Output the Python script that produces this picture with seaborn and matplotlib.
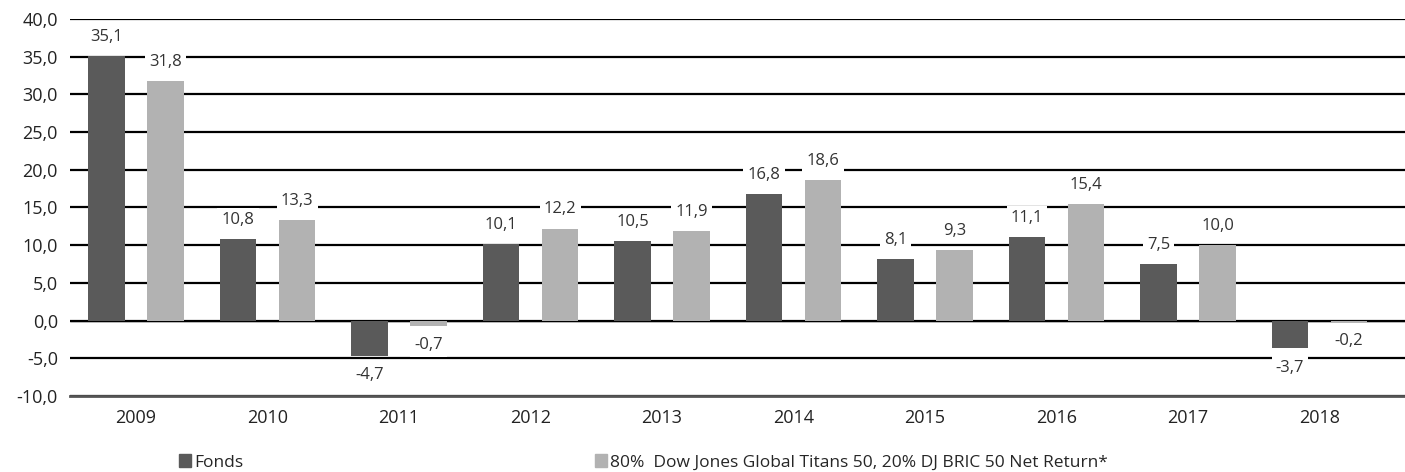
import pandas as pd
import matplotlib.pyplot as plt
import seaborn as sns

years = ['2009', '2010', '2011', '2012', '2013', '2014', '2015', '2016', '2017', '2018']
fonds = [35.1, 10.8, -4.7, 10.1, 10.5, 16.8, 8.1, 11.1, 7.5, -3.7]
benchmark = [31.8, 13.3, -0.7, 12.2, 11.9, 18.6, 9.3, 15.4, 10.0, -0.2]
series_names = ['Fonds', '80%  Dow Jones Global Titans 50, 20% DJ BRIC 50 Net Return*']
colors = ['#5a5a5a', '#b2b2b2']
y_ticks = [-10, -5, 0, 5, 10, 15, 20, 25, 30, 35, 40]

df = pd.DataFrame({
    'year': years * 2,
    'value': fonds + benchmark,
    'series': [series_names[0]] * len(years) + [series_names[1]] * len(years),
})

sns.set_style('white')
plt.rcParams['font.family'] = ['Open Sans', 'DejaVu Sans']

fig = plt.figure(figsize=(14.05, 4.72), dpi=100)
ax = fig.add_axes([0.05, 0.161, 0.95, 0.799])

sns.barplot(data=df, x='year', y='value', hue='series', palette=colors,
            width=0.9, gap=0.38, ax=ax, zorder=3, legend=False,
            linewidth=0, edgecolor='none')

ax.set_ylim(-10, 40)
ax.set_xlim(-0.5, 9.65)
ax.set_yticks(y_ticks)
ax.set_yticklabels([f'{t:.1f}'.replace('.', ',') for t in y_ticks])
ax.yaxis.grid(True, color='black', linewidth=1.6, zorder=0)
ax.set_axisbelow(True)
ax.axhline(0, color='black', linewidth=1.0, zorder=2)
for s in ['top', 'right', 'left']:
    ax.spines[s].set_visible(False)
ax.spines['bottom'].set_color('#555555')
ax.spines['bottom'].set_linewidth(2)
ax.tick_params(axis='both', length=0, labelsize=13, colors='#222222')
ax.tick_params(axis='y', pad=9)
ax.tick_params(axis='x', pad=9)
ax.set_xlabel('')
ax.set_ylabel('')

for cont, vals in zip(ax.containers, [fonds, benchmark]):
    ax.bar_label(cont, labels=[f'{v:.1f}'.replace('.', ',') for v in vals],
                 padding=8, fontsize=12, color='#333333', zorder=4,
                 bbox=dict(boxstyle='square,pad=0.25', facecolor='white', edgecolor='none'))

handles = [plt.Rectangle((0, 0), 1, 1, color=c) for c in colors]
fig.legend(handles, series_names, loc='center left', bbox_to_anchor=(0.1225, 0.02),
           ncol=2, frameon=False, fontsize=12.5, handlelength=0.7, handleheight=0.7,
           handletextpad=0.2, columnspacing=20.2, borderaxespad=0)

fig.savefig('out.png', dpi=100)
